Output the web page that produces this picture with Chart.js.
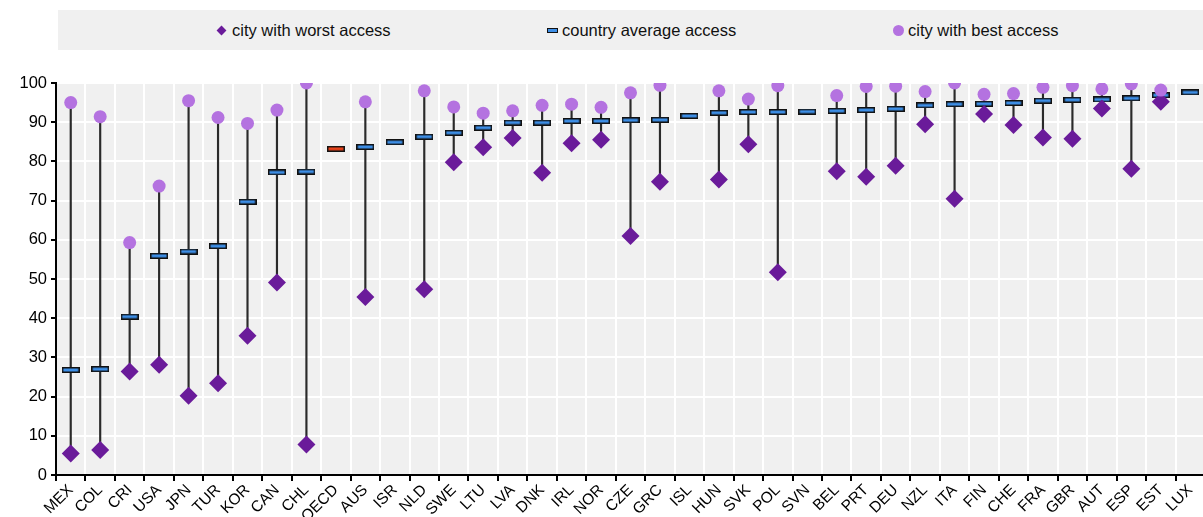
<!DOCTYPE html>
<html><head><meta charset="utf-8">
<script src="https://cdn.jsdelivr.net/npm/chart.js@4"></script>
<style>
html,body{margin:0;padding:0;background:#fff;overflow:hidden;}
#wrap{position:relative;width:1203px;height:517px;overflow:hidden;}
#chart{position:absolute;left:0;top:0;}
#legend{position:absolute;left:58px;top:10px;width:1145px;height:40px;background:#f0f0f0;font-family:"Liberation Sans",Arial,sans-serif;font-size:16.5px;color:#111;}
.item{position:absolute;top:11px;line-height:18px;white-space:nowrap;}
.mk{position:absolute;}
</style>
</head><body>
<div id="wrap">
<canvas id="chart" width="1214" height="517"></canvas>
<div id="legend">
  <span class="mk" style="left:160px;top:17px;width:7px;height:7px;background:#6a1b9a;transform:rotate(45deg);"></span>
  <span class="item" style="left:174px;">city with worst access</span>
  <span class="mk" style="left:489px;top:18px;width:9px;height:3px;background:#3d8ee6;border:1px solid #111;"></span>
  <span class="item" style="left:504px;">country average access</span>
  <span class="mk" style="left:835px;top:15px;width:11px;height:11px;border-radius:50%;background:#b472e0;"></span>
  <span class="item" style="left:850px;">city with best access</span>
</div>
</div>
<script>
const categories = ["MEX","COL","CRI","USA","JPN","TUR","KOR","CAN","CHL","OECD","AUS","ISR","NLD","SWE","LTU","LVA","DNK","IRL","NOR","CZE","GRC","ISL","HUN","SVK","POL","SVN","BEL","PRT","DEU","NZL","ITA","FIN","CHE","FRA","GBR","AUT","ESP","EST","LUX"];
const worstAccess = [5.5,6.4,26.4,28.1,20.2,23.4,35.5,49.1,7.8,null,45.4,null,47.4,79.8,83.6,86.0,77.1,84.6,85.5,61.0,74.8,null,75.4,84.4,51.7,null,77.5,76.1,78.9,89.5,70.5,92.1,89.3,86.1,85.8,93.5,78.1,95.2,null];
const averageAccess = [26.8,27.0,40.4,55.9,57.0,58.4,69.7,77.2,77.4,83.2,83.7,84.9,86.3,87.3,88.6,89.9,89.9,90.3,90.3,90.5,90.6,91.6,92.4,92.6,92.6,92.7,92.9,93.1,93.4,94.3,94.6,94.7,94.9,95.5,95.7,95.8,96.1,96.9,97.6];
const bestAccess = [95.0,91.4,59.3,73.7,95.5,91.2,89.7,93.1,100.0,null,95.2,null,98.0,93.9,92.3,92.9,94.3,94.6,93.8,97.5,99.4,null,98.0,95.9,99.3,null,96.8,99.1,99.2,97.8,100.0,97.1,97.3,98.9,99.3,98.5,99.8,98.2,null];
const yTicks = [0,10,20,30,40,50,60,70,80,90,100];

const rangeData = categories.map((c,i)=> (worstAccess[i]!=null && bestAccess[i]!=null) ? [worstAccess[i], bestAccess[i]] : null);

function makeRect(fill){
  const c = document.createElement('canvas');
  c.width = 18; c.height = 6;
  const g = c.getContext('2d');
  g.fillStyle = '#111';
  g.fillRect(0,0,18,6);
  g.fillStyle = fill;
  g.fillRect(1.5,1.5,15,3);
  return c;
}
const blueRect = makeRect('#3d8ee6');
const redRect = makeRect('#e8421a');

const bgPlugin = {
  id:'bg',
  beforeDraw(chart){
    const a = chart.chartArea, ctx = chart.ctx;
    ctx.save();
    ctx.fillStyle = '#f0f0f0';
    ctx.fillRect(a.left, a.top, a.right-a.left, a.bottom-a.top);
    ctx.restore();
  }
};

const tickFont = {family:'"Liberation Sans", Arial, sans-serif', size:16.5};

new Chart(document.getElementById('chart'), {
  data:{
    labels: categories,
    datasets:[
      {type:'bar', label:'range', data:rangeData, backgroundColor:'#2a2a2a', barThickness:1.5, order:4},
      {type:'line', label:'country average access', data:averageAccess, showLine:false,
        pointStyle:(ctx)=> categories[ctx.dataIndex]==='OECD' ? redRect : blueRect, order:3},
      {type:'line', label:'city with worst access', data:worstAccess, showLine:false,
        pointStyle:'rectRot', pointRadius:9, pointBackgroundColor:'#6a1b9a', pointBorderColor:'#6a1b9a', pointBorderWidth:0, order:2},
      {type:'line', label:'city with best access', data:bestAccess, showLine:false,
        pointStyle:'circle', pointRadius:6.5, pointBackgroundColor:'#b472e0', pointBorderColor:'#b472e0', pointBorderWidth:0, order:1}
    ]
  },
  options:{
    responsive:false,
    animation:false,
    layout:{padding:{top:83, right:0, left:0, bottom:0}},
    plugins:{legend:{display:false}, tooltip:{enabled:false}},
    scales:{
      x:{
        type:'category', offset:true,
        grid:{color:'#ffffff', lineWidth:2, offset:true, tickColor:'#000', tickLength:6, drawTicks:true},
        border:{color:'#000', width:2},
        ticks:{autoSkip:false, minRotation:45, maxRotation:45, color:'#000', font:{family:'"Liberation Sans", Arial, sans-serif', size:15.5}, padding:0},
        afterFit(s){ s.height = 42; s.paddingRight = 0; s.paddingLeft = 0; }
      },
      y:{
        min:0, max:100,
        afterBuildTicks(s){ s.ticks = yTicks.map(v=>({value:v})); },
        grid:{color:'#ffffff', lineWidth:2, tickColor:'#000', tickLength:5},
        border:{color:'#000', width:2},
        ticks:{color:'#000', font:tickFont, padding:4},
        afterFit(s){ s.width = 56; }
      }
    }
  },
  plugins:[bgPlugin]
});
</script>
</body></html>
